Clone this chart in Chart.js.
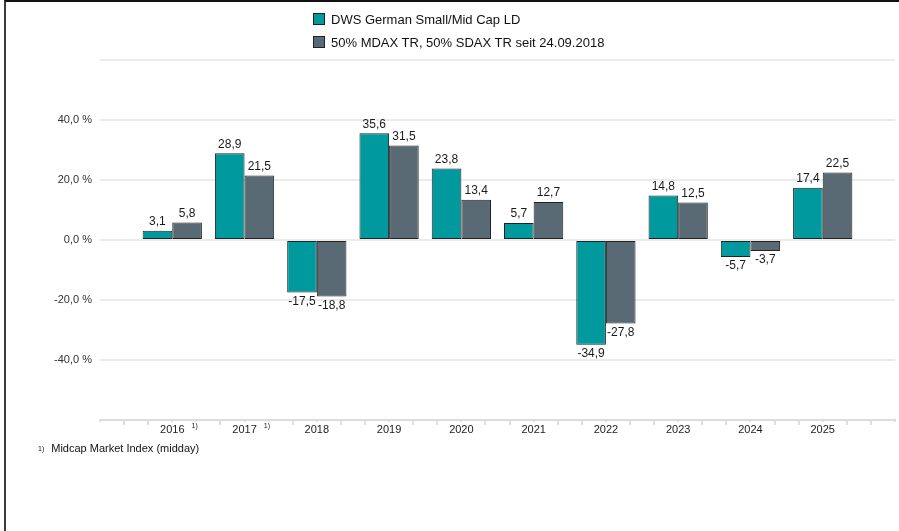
<!DOCTYPE html>
<html>
<head>
<meta charset="utf-8">
<script src="https://cdn.jsdelivr.net/npm/chart.js@4.4.1/dist/chart.umd.min.js"></script>
<style>
  body { margin: 0; background: #fff; font-family: "Liberation Sans", Arial, sans-serif; }
  #wrap { position: relative; width: 899px; height: 531px; overflow: hidden; }
  #rahmen { position: absolute; left: 4px; top: 0; width: 895px; height: 531px; box-sizing: border-box;
            border-top: 2px solid #111; border-left: 2px solid #3c3c3c; pointer-events: none; }
  canvas { position: absolute; left: 0; top: 0; }
  .leg { position: absolute; left: 313px; font-size: 13px; color: #111; white-space: nowrap; line-height: 14px; }
  .leg span { display: inline-block; width: 10px; height: 10px; border: 1px solid #222; margin-right: 6px; vertical-align: -1px; }
  #fuss { position: absolute; left: 38px; top: 442px; font-size: 11px; color: #111; white-space: nowrap; }
  #fuss small { font-size: 7px; margin-right: 7px; vertical-align: 1px; }
</style>
</head>
<body>
<div id="wrap">
  <canvas id="myChart" width="899" height="531"></canvas>
  <div class="leg" style="top:13px"><span style="background:#009a9e"></span>DWS German Small/Mid Cap LD</div>
  <div class="leg" style="top:36px"><span style="background:#5a6a74"></span>50% MDAX TR, 50% SDAX TR seit 24.09.2018</div>
  <div id="fuss"><small>1)</small>Midcap Market Index (midday)</div>
  <div id="rahmen"></div>
</div>
<script>
// Daten aus der Grafik
const jahre = ['2016', '2017', '2018', '2019', '2020', '2021', '2022', '2023', '2024', '2025'];
const fondsWerte = [3.1, 28.9, -17.5, 35.6, 23.8, 5.7, -34.9, 14.8, -5.7, 17.4];
const indexWerte = [5.8, 21.5, -18.8, 31.5, 13.4, 12.7, -27.8, 12.5, -3.7, 22.5];
const yTicks = [-40, -20, 0, 20, 40];
const fussnoteJahre = ['2016', '2017'];

const schrift = '"Liberation Sans", Arial, sans-serif';

// leere Kategorie links und rechts, damit die Achse eine Spalte Luft hat
const labels = [''].concat(jahre, ['']);
const mitRand = arr => [null].concat(arr, [null]);

function komma(v) {
    return v.toFixed(1).replace('.', ',');
}

// kleine Striche unter der x-Achse (drei pro Kategorie)
const achsenStriche = {
    id: 'achsenStriche',
    beforeDraw(chart) {
        const x = chart.scales.x;
        const ctx = chart.ctx;
        const n = chart.data.labels.length - 1;
        ctx.save();
        ctx.strokeStyle = '#e0e0e0';
        ctx.lineWidth = 2;
        for (let k = 0; k <= n * 3; k++) {
            const px = Math.round(x.getPixelForValue(k / 3));
            ctx.beginPath();
            ctx.moveTo(px, x.top);
            ctx.lineTo(px, x.top + 5);
            ctx.stroke();
        }
        ctx.restore();
    }
};

// Werte an den Balken + Fussnotenzeichen an den Jahren
const werteLabels = {
    id: 'werteLabels',
    afterDatasetsDraw(chart) {
        const ctx = chart.ctx;
        ctx.save();
        ctx.font = '12px ' + schrift;
        ctx.fillStyle = '#1a1a1a';
        ctx.textAlign = 'center';
        chart.data.datasets.forEach((ds, i) => {
            chart.getDatasetMeta(i).data.forEach((bar, j) => {
                const v = ds.data[j];
                if (v === null) return;
                if (v >= 0) {
                    ctx.textBaseline = 'bottom';
                    ctx.fillText(komma(v), bar.x, bar.y - 3);
                } else {
                    ctx.textBaseline = 'top';
                    ctx.fillText(komma(v), bar.x, bar.y + 3);
                }
            });
        });
        ctx.restore();
    },
    afterDraw(chart) {
        const x = chart.scales.x;
        const ctx = chart.ctx;
        ctx.save();
        ctx.font = '11px ' + schrift;
        fussnoteJahre.forEach(j => {
            const px = x.getPixelForValue(chart.data.labels.indexOf(j));
            const w = ctx.measureText(j).width;
            const sx = px + w / 2 + 7;
            ctx.fillStyle = '#fff';
            ctx.fillRect(sx - 1, x.top + 2, 10, 9);
            ctx.fillStyle = '#1a1a1a';
            ctx.font = '7px ' + schrift;
            ctx.textAlign = 'left';
            ctx.textBaseline = 'top';
            ctx.fillText('1)', sx, x.top + 3);
            ctx.font = '11px ' + schrift;
        });
        ctx.restore();
    }
};

const canvas = document.querySelector('#myChart');
const myChart = new Chart(canvas, {
    type: 'bar',
    data: {
        labels,
        datasets: [
            {
                label: 'DWS German Small/Mid Cap LD',
                data: mitRand(fondsWerte),
                backgroundColor: '#009a9e',
                borderColor: '#222',
                borderWidth: 1,
                borderSkipped: false
            },
            {
                label: '50% MDAX TR, 50% SDAX TR seit 24.09.2018',
                data: mitRand(indexWerte),
                backgroundColor: '#5a6a74',
                borderColor: '#222',
                borderWidth: 1,
                borderSkipped: false
            }
        ]
    },
    options: {
        responsive: false,
        animation: false,
        categoryPercentage: 0.82,
        barPercentage: 1,
        layout: { padding: { top: 60, right: 4, left: 0, bottom: 0 } },
        plugins: {
            legend: { display: false },
            tooltip: { enabled: false }
        },
        scales: {
            x: {
                offset: false,
                grid: { display: false, drawTicks: false },
                border: { display: true, color: '#dcdcdc', width: 2 },
                ticks: {
                    autoSkip: false,
                    maxRotation: 0,
                    padding: 3,
                    color: '#222',
                    font: { family: schrift, size: 11 },
                    showLabelBackdrop: true,
                    backdropColor: '#fff',
                    backdropPadding: 1
                },
                afterFit(scale) { scale.height = 111; }
            },
            y: {
                min: -60,
                max: 60,
                grid: { color: '#ebebeb', lineWidth: 2, drawTicks: false },
                border: { display: false },
                ticks: {
                    stepSize: 20,
                    padding: 8,
                    color: '#333',
                    font: { family: schrift, size: 11 },
                    callback: v => yTicks.includes(v) ? komma(v) + ' %' : ''
                },
                afterFit(scale) { scale.width = 100; }
            }
        }
    },
    plugins: [achsenStriche, werteLabels]
});
</script>
</body>
</html>
